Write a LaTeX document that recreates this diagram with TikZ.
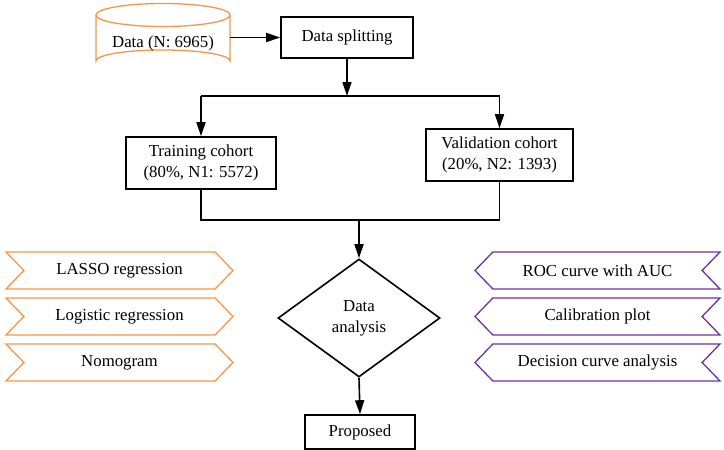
\documentclass[tikz,border=0pt]{standalone}
\usepackage{fontspec}
\setmainfont{Liberation Serif}
\usetikzlibrary{shapes.geometric,shapes.symbols,arrows.meta}
\definecolor{orng}{RGB}{247,150,70}
\definecolor{purp}{RGB}{112,48,160}
\begin{document}
\begin{tikzpicture}[x=1pt,y=-1pt,
  font=\fontsize{16.8}{21}\selectfont,
  box/.style={draw,line width=1.6pt,align=center,inner sep=0pt},
  arr/.style={line width=1.6pt,-{Triangle[length=14pt,width=9pt]}},
  ln/.style={line width=1.6pt},
  lchev/.style={signal,signal to=east,signal from=west,signal pointer angle=92,draw=orng,line width=1.3pt,minimum width=227pt,minimum height=37pt,inner sep=0pt},
  rchev/.style={signal,signal to=west,signal from=east,signal pointer angle=92,draw=purp,line width=1.3pt,minimum width=245pt,minimum height=37pt,inner sep=0pt}]
\useasboundingbox (0,0) rectangle (724,450);
% cylinder
\draw[orng,line width=1.3pt,fill=white] (96,15) -- (96,61) arc[start angle=180,end angle=360,x radius=67,y radius=11] -- (230,15);
\draw[orng,line width=1.3pt] (163,15) ellipse[x radius=67,y radius=11.5];
\node[inner sep=0pt,minimum width=134pt] (data) at (163,43.5) {Data (N: 6965)};
\node[box,minimum width=132pt,minimum height=41pt] (split) at (347,37.5) {Data splitting};
\draw[arr] (data.east |- split.west) -- (split.west);
\node[box,minimum width=150pt,minimum height=52pt] (train) at (201,163) {Training cohort\\(80\%, N1: 5572)};
\node[box,minimum width=147pt,minimum height=52pt] (valid) at (499.5,155) {Validation cohort\\(20\%, N2: 1393)};
\coordinate (hl) at (train.north |- 0,96);
\coordinate (hr) at (valid.north |- 0,96);
\draw[arr] (split.south) -- (split.south |- hl);
\draw[ln] (hl) -- (hr);
\draw[arr] (hl) -- (train.north);
\draw[arr] (hr) -- (valid.north);
\node[diamond,draw,line width=1.6pt,align=center,inner sep=0pt,shape aspect=1.37,minimum width=162pt,minimum height=118pt] (anal) at (359,318) {Data\\analysis};
\coordinate (bl) at (train.south |- 0,220);
\coordinate (br) at (valid.south |- 0,220);
\draw[ln] (train.south) -- (bl) -- (br) -- (valid.south);
\draw[arr] (anal.north |- bl) -- (anal.north);
\node[box,minimum width=110pt,minimum height=34pt] (prop) at (360,432) {Proposed};
\draw[arr] (anal.south) -- (prop.north);
% left chevrons
\node[lchev] (lasso) at (119.5,270.5) {LASSO regression};
\node[lchev] (logit) at (119.5,316.5) {Logistic regression};
\node[lchev] (nomo) at (119.5,362.5) {Nomogram};
% right chevrons
\node[rchev] (roc) at (597.5,270.5) {ROC curve with AUC};
\node[rchev] (calib) at (597.5,316.5) {Calibration plot};
\node[rchev] (dca) at (597.5,362.5) {Decision curve analysis};
\end{tikzpicture}
\end{document}
